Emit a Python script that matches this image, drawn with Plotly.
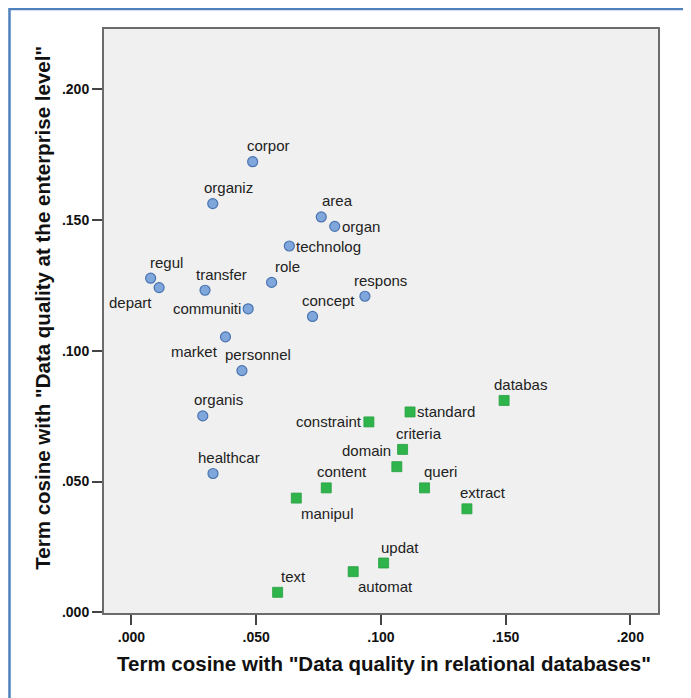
import plotly.graph_objects as go

# ---- data ----
blue_terms = ["corpor", "organiz", "area", "organ", "technolog", "regul", "depart",
              "transfer", "role", "respons", "communiti", "concept", "market",
              "personnel", "organis", "healthcar"]
blue_x = [0.0486, 0.0326, 0.0761, 0.0815, 0.0633, 0.0077, 0.0111, 0.0295, 0.0562,
          0.0936, 0.0468, 0.0726, 0.0377, 0.0443, 0.0286, 0.0327]
blue_y = [0.1722, 0.1562, 0.1511, 0.1475, 0.1400, 0.1277, 0.1241, 0.1231, 0.1261,
          0.1208, 0.1160, 0.1131, 0.1053, 0.0924, 0.0751, 0.0531]

green_terms = ["databas", "standard", "constraint", "criteria", "domain", "queri",
               "content", "manipul", "extract", "updat", "automat", "text"]
green_x = [0.1494, 0.1117, 0.0952, 0.1087, 0.1064, 0.1175, 0.0781, 0.0661, 0.1345,
           0.1011, 0.0889, 0.0586]
green_y = [0.0810, 0.0766, 0.0728, 0.0623, 0.0557, 0.0476, 0.0476, 0.0437, 0.0396,
           0.0189, 0.0156, 0.0077]

tick_vals = [0.0, 0.05, 0.10, 0.15, 0.20]
tick_text = [".000", ".050", ".100", ".150", ".200"]

x_title = 'Term cosine with "Data quality in relational databases"'
y_title = 'Term cosine with "Data quality at the enterprise level"'

# ---- label placement (style) ----
label_pos = {
    "corpor": "tr", "organiz": "tr", "area": "tr", "organ": "r", "technolog": "r",
    "regul": "tr", "depart": "bl", "transfer": "tr", "role": "tr", "respons": "tr",
    "communiti": "l", "concept": "tr", "market": "bl", "personnel": "tr",
    "organis": "tr", "healthcar": "tr",
    "databas": "tr", "standard": "r", "constraint": "l", "criteria": "tr",
    "domain": "tl", "queri": "tr", "content": "tr", "manipul": "br",
    "extract": "tr", "updat": "tr", "automat": "br", "text": "tr",
}
pos_style = {
    "tr": dict(xanchor="center", xshift=16, yshift=16),
    "r": dict(xanchor="left", xshift=5, yshift=0),
    "l": dict(xanchor="right", xshift=-5, yshift=0),
    "bl": dict(xanchor="right", xshift=-5, yshift=-15),
    "tl": dict(xanchor="right", xshift=-4, yshift=16),
    "br": dict(xanchor="left", xshift=3, yshift=-15),
}

FONT = "Liberation Sans, Arial, sans-serif"

fig = go.Figure()
fig.add_trace(go.Scatter(
    x=blue_x, y=blue_y, mode="markers", name="enterprise",
    marker=dict(symbol="circle", size=10, color="#80a7dc",
                line=dict(color="#4a73b0", width=1.2)),
    hoverinfo="text", text=blue_terms))
fig.add_trace(go.Scatter(
    x=green_x, y=green_y, mode="markers", name="relational",
    marker=dict(symbol="square", size=10, color="#2eb44b",
                line=dict(color="#27a042", width=0.8)),
    hoverinfo="text", text=green_terms))

annotations = []
for terms, xs, ys in ((blue_terms, blue_x, blue_y), (green_terms, green_x, green_y)):
    for t, xv, yv in zip(terms, xs, ys):
        st = pos_style[label_pos[t]]
        annotations.append(dict(
            x=xv, y=yv, xref="x", yref="y", text=t, showarrow=False,
            yanchor="middle", font=dict(family=FONT, size=15, color="#222222"), **st))

annotations.append(dict(
    x=0.506, y=-0.087, xref="paper", yref="paper", text=x_title, showarrow=False,
    xanchor="center", yanchor="middle",
    font=dict(family=FONT, size=20.5, color="#111111", weight="bold")))
annotations.append(dict(
    x=-0.110, y=0.523, xref="paper", yref="paper", text=y_title, showarrow=False,
    textangle=-90, xanchor="center", yanchor="middle",
    font=dict(family=FONT, size=20.5, color="#111111", weight="bold")))

axis_common = dict(
    showgrid=False, zeroline=False, showline=True, linecolor="#6b6b6b", linewidth=2,
    mirror=True, ticks="outside", ticklen=10, tickwidth=1.5, tickcolor="#444444",
    tickvals=tick_vals, ticktext=tick_text,
    tickfont=dict(family=FONT, size=14, color="#111111", weight="bold"),
)

# page has an 8px body margin; size and margins compensate so the plot lands where the reference has it
fig.update_layout(
    width=683, height=690,
    margin=dict(l=96, r=33, t=21, b=85),
    paper_bgcolor="white", plot_bgcolor="#f0f0f0",
    showlegend=False,
    xaxis=dict(range=[-0.0110, 0.2111], **axis_common),
    yaxis=dict(range=[-0.0002, 0.2229], **axis_common),
    annotations=annotations,
    shapes=[dict(type="rect", xref="paper", yref="paper",
                 x0=-0.1706, x1=1.5, y0=-0.5, y1=1.0342,
                 line=dict(color="#4f81bd", width=2.5), layer="above")],
)

fig.write_html("out.html")
